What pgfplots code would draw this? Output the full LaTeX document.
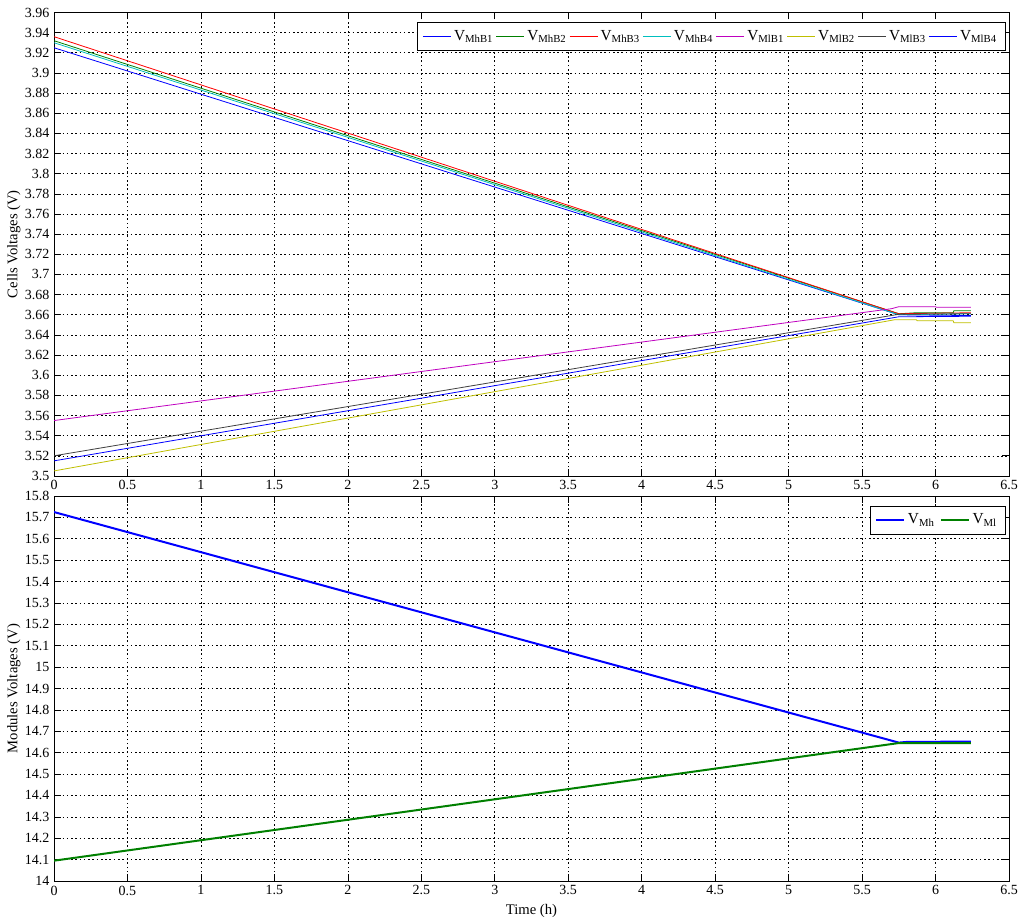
\documentclass[border=0pt]{standalone}
\usepackage{fontspec}
\setmainfont{Liberation Serif}
\usepackage{pgfplots}
\pgfplotsset{compat=1.18}
\definecolor{mb}{rgb}{0,0,1}
\definecolor{mg}{rgb}{0,0.5,0}
\definecolor{mr}{rgb}{1,0,0}
\definecolor{mc}{rgb}{0,0.75,0.75}
\definecolor{mm}{rgb}{0.75,0,0.75}
\definecolor{my}{rgb}{0.75,0.75,0}
\definecolor{mk}{rgb}{0.25,0.25,0.25}
\pgfplotsset{
  mstyle/.style={
    scale only axis,
    width=716.25pt,
    xmin=0, xmax=6.5,
    xtick={0,0.5,1,1.5,2,2.5,3,3.5,4,4.5,5,5.5,6,6.5},
    grid=major,
    grid style={black, line width=0.45pt, dash pattern=on 1.2pt off 2pt},
    axis line style={black, line width=0.6pt},
    tick style={black, line width=0.5pt},
    major tick length=5pt,
    tick align=inside,
    /pgf/number format/assume math mode=true,
    /pgf/number format/fixed,
    /pgf/number format/precision=2,
    tick label style={font=\fontsize{10.5}{12}\selectfont},
    legend cell align=left,
    legend image code/.code={\draw[#1] (0pt,0pt) -- (21pt,0pt);},
  }
}
\begin{document}
\begin{tikzpicture}
\path[use as bounding box] (0,0) rectangle (768pt,-692.25pt);
\begin{axis}[mstyle,
  at={(40.5pt,-9.375pt)}, anchor=north west,
  height=347.6pt,
  ymin=3.5, ymax=3.96,
  ytick={3.5,3.52,3.54,3.56,3.58,3.6,3.62,3.64,3.66,3.68,3.7,3.72,3.74,3.76,3.78,3.8,3.82,3.84,3.86,3.88,3.9,3.92,3.94,3.96},
  ylabel={Cells Voltages (V)},
  every axis y label/.style={at={(axis description cs:-0.042,0.5)}, rotate=90, anchor=center, font=\fontsize{11}{13}\selectfont},
  legend style={legend columns=8, at={(0.996,0.98)}, anchor=north east,
    font=\fontsize{11.5}{14}\selectfont, draw=black, line width=0.5pt, inner sep=4pt,
    /tikz/every even column/.append style={column sep=0pt}},
]
\addplot[mb, line width=0.6pt] coordinates {(0,3.925) (5.75,3.660) (6.24,3.6592)};
\addplot[mg, line width=0.6pt] coordinates {(0,3.932) (5.75,3.661) (5.87,3.662) (6.12,3.662) (6.125,3.664) (6.24,3.664)};
\addplot[mr, line width=0.6pt] coordinates {(0,3.936) (5.75,3.661) (6.24,3.662)};
\addplot[mc, line width=0.6pt] coordinates {(0,3.930) (5.75,3.660) (6.24,3.661)};
\addplot[mm, line width=0.6pt] coordinates {(0,3.555) (5.7,3.666) (5.75,3.668) (6.0,3.668) (6.005,3.6675) (6.24,3.6675)};
\addplot[my, line width=0.6pt] coordinates {(0,3.505) (5.72,3.655) (5.87,3.655) (5.875,3.654) (6.12,3.654) (6.125,3.652) (6.24,3.652)};
\addplot[mk, line width=0.6pt] coordinates {(0,3.520) (5.75,3.6605) (6.24,3.661)};
\addplot[mb, line width=0.6pt] coordinates {(0,3.515) (5.75,3.658) (6.24,3.6585)};
\legend{V\textsubscript{MhB1},V\textsubscript{MhB2},V\textsubscript{MhB3},V\textsubscript{MhB4},V\textsubscript{MlB1},V\textsubscript{MlB2},V\textsubscript{MlB3},V\textsubscript{MlB4}}
\end{axis}
\begin{axis}[mstyle,
  at={(40.5pt,-372pt)}, anchor=north west,
  height=288.75pt,
  ymin=14, ymax=15.8,
  ytick={14,14.1,14.2,14.3,14.4,14.5,14.6,14.7,14.8,14.9,15,15.1,15.2,15.3,15.4,15.5,15.6,15.7,15.8},
  ylabel={Modules Voltages (V)},
  xlabel={Time (h)},
  every axis y label/.style={at={(axis description cs:-0.042,0.5)}, rotate=90, anchor=center, font=\fontsize{11}{13}\selectfont},
  every axis x label/.style={at={(axis description cs:0.5,-0.077)}, anchor=center, font=\fontsize{11}{13}\selectfont},
  legend style={legend columns=2, at={(0.996,0.975)}, anchor=north east,
    font=\fontsize{11.5}{14}\selectfont, draw=black, line width=0.5pt, inner sep=4pt,
    /tikz/every even column/.append style={column sep=2pt}},
]
\addplot[mb, line width=1.5pt] coordinates {(0,15.725) (5.75,14.647) (5.8,14.650) (6.24,14.652)};
\addplot[mg, line width=1.5pt] coordinates {(0,14.095) (5.75,14.645) (6.24,14.645)};
\legend{V\textsubscript{Mh},V\textsubscript{Ml}}
\end{axis}
\end{tikzpicture}
\end{document}
